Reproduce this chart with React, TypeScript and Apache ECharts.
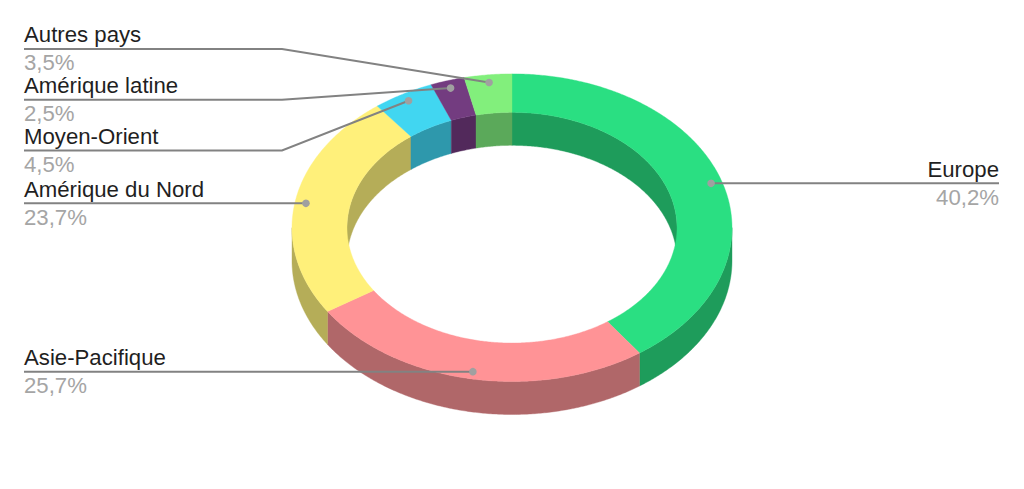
import React, { useEffect, useRef } from "react";
import * as echarts from "echarts";

const names = ["Europe", "Asie-Pacifique", "Amérique du Nord", "Moyen-Orient", "Amérique latine", "Autres pays"];
const values = [40.2, 25.7, 23.7, 4.5, 2.5, 3.5];
const valueLabels = ["40,2%", "25,7%", "23,7%", "4,5%", "2,5%", "3,5%"];

const topColors = ["#2ADF82", "#FF9396", "#FFF07A", "#41D6F1", "#733C80", "#82EF7C"];
const sideColors = ["#1E9C5B", "#B06769", "#B5AD58", "#2E98AC", "#52295B", "#5BA95A"];

// Ring geometry
const CX = 512;
const CY = 227.7;
const RX = 220;
const RY = 153.8;
const HOLE = 0.75;
const DEPTH = 33;
const ANCHOR = 0.95;

// Leader line layout: y of the horizontal run, x of the elbow (null: straight), x where the run ends, side of the text
const leaders = [
  { y: 183.3, elbow: null, end: 999, right: true },
  { y: 371.7, elbow: null, end: 24, right: false },
  { y: 203.3, elbow: null, end: 24, right: false },
  { y: 150.5, elbow: 282, end: 24, right: false },
  { y: 99.8, elbow: 282, end: 24, right: false },
  { y: 49, elbow: 282, end: 24, right: false },
];

const total = values.reduce((a, b) => a + b, 0);
const bounds: number[] = [0];
values.forEach((v) => bounds.push(bounds[bounds.length - 1] + (v / total) * 360));

const pt = (deg: number, k: number, dy = 0): [number, number] => {
  const t = (deg * Math.PI) / 180;
  return [CX + RX * k * Math.sin(t), CY + dy - RY * k * Math.cos(t)];
};

const arc = (a: number, b: number, k: number, dy = 0) => {
  const n = Math.max(2, Math.ceil(Math.abs(b - a) / 0.5));
  const out: [number, number][] = [];
  for (let i = 0; i <= n; i++) out.push(pt(a + ((b - a) * i) / n, k, dy));
  return out;
};

const band = (a: number, b: number, k1: number, d1: number, k2: number, d2: number) => [
  ...arc(a, b, k1, d1),
  ...arc(b, a, k2, d2),
];

const poly = (points: [number, number][], color: string) => ({
  type: "polygon",
  shape: { points },
  style: { fill: color, stroke: color, lineWidth: 0.4 },
});

const overlap = (a: number, b: number, lo: number, hi: number): [number, number] | null => {
  const s = Math.max(a, lo);
  const e = Math.min(b, hi);
  return e > s ? [s, e] : null;
};

const renderInnerWall = (p: any) => {
  const i = p.dataIndex;
  const a = bounds[i];
  const b = bounds[i + 1];
  const children: any[] = [];
  for (const [lo, hi] of [[0, 90], [270, 360]]) {
    const r = overlap(a, b, lo, hi);
    if (r) children.push(poly(band(r[0], r[1], HOLE, 0, HOLE, DEPTH), sideColors[i]));
  }
  return { type: "group", children };
};

const renderOuterWall = (p: any) => {
  const i = p.dataIndex;
  const r = overlap(bounds[i], bounds[i + 1], 90, 270);
  return {
    type: "group",
    children: r ? [poly(band(r[0], r[1], 1, 0, 1, DEPTH), sideColors[i])] : [],
  };
};

const renderTop = (p: any) => {
  const i = p.dataIndex;
  return { type: "group", children: [poly(band(bounds[i], bounds[i + 1], 1, 0, HOLE, 0), topColors[i])] };
};

const FONT = '22.2px "Liberation Sans", Arial, sans-serif';

const renderLeader = (p: any) => {
  const i = p.dataIndex;
  const l = leaders[i];
  const mid = (bounds[i] + bounds[i + 1]) / 2;
  const dot = pt(mid, ANCHOR);
  const align = l.right ? "right" : "left";
  const points =
    l.elbow === null
      ? [[dot[0], l.y], [l.end, l.y]]
      : [dot, [l.elbow, l.y], [l.end, l.y]];
  return {
    type: "group",
    children: [
      {
        type: "polyline",
        shape: { points },
        style: { fill: "none", stroke: "#828282", lineWidth: 1.9 },
      },
      {
        type: "circle",
        shape: { cx: dot[0], cy: l.elbow === null ? l.y : dot[1], r: 3.8 },
        style: { fill: "#A0A0A0" },
      },
      {
        type: "text",
        style: {
          text: names[i],
          x: l.end,
          y: l.y - 14.2,
          font: FONT,
          fill: "#1F1F1F",
          align,
          verticalAlign: "middle",
        },
      },
      {
        type: "text",
        style: {
          text: valueLabels[i],
          x: l.end,
          y: l.y + 13.7,
          font: FONT,
          fill: "#A5A5A5",
          align,
          verticalAlign: "middle",
        },
      },
    ],
  };
};

export default function App() {
  const ref = useRef<HTMLDivElement>(null);
  useEffect(() => {
    const chart = echarts.init(ref.current!, null, { renderer: "svg" });
    const rows = values.map((v) => [v]);
    const base = { type: "custom", coordinateSystem: "none", data: rows, silent: true, animation: false };
    chart.setOption({
      animation: false,
      backgroundColor: "#FFFFFF",
      series: [
        { ...base, name: "inner", z: 1, renderItem: renderInnerWall },
        { ...base, name: "outer", z: 2, renderItem: renderOuterWall },
        { ...base, name: "top", z: 3, renderItem: renderTop },
        { ...base, name: "labels", z: 4, renderItem: renderLeader },
      ],
    });
    return () => chart.dispose();
  }, []);
  return <div ref={ref} style={{ position: "fixed", left: 0, top: 0, width: 1024, height: 489 }} />;
}
